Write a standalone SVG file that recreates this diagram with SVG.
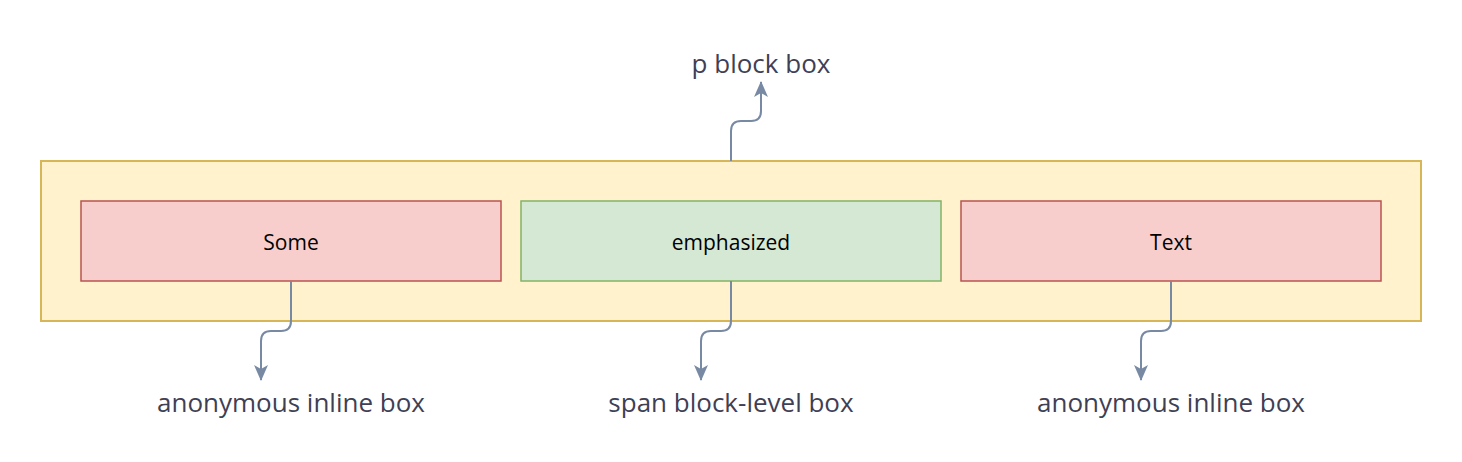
<svg xmlns="http://www.w3.org/2000/svg" width="1462" height="462" viewBox="0 0 1462 462">
<style>
.lbl{font-family:"Comic Sans MS","Open Sans","DejaVu Sans",sans-serif;font-size:26px;fill:#3f3f55;text-anchor:middle}
.in{font-family:"Comic Sans MS","Open Sans","DejaVu Sans",sans-serif;font-size:21px;fill:#000;text-anchor:middle}
.red{fill:#f8cecc;stroke:#b85450;stroke-width:1.5}
.grn{fill:#d5e8d4;stroke:#82b366;stroke-width:1.5}
.con{fill:none;stroke:#788aa3;stroke-width:2}
</style>
<defs>
<marker id="ah" viewBox="0 0 16 14" refX="15" refY="7" markerWidth="16" markerHeight="14" markerUnits="userSpaceOnUse" orient="auto">
<path d="M0,0 L16,7 L0,14 L4,7 Z" fill="#788aa3"/>
</marker>
</defs>
<rect width="1462" height="462" fill="#fff"/>
<g id="p-block">
<rect x="41" y="161" width="1380" height="160" fill="#fff2cc" stroke="#d6b656" stroke-width="2"/>
</g>
<g id="some"><rect class="red" x="81" y="201" width="420" height="80"/><text class="in" x="291" y="250">Some</text></g>
<g id="emphasized"><rect class="grn" x="521" y="201" width="420" height="80"/><text class="in" x="731" y="250">emphasized</text></g>
<g id="text"><rect class="red" x="961" y="201" width="420" height="80"/><text class="in" x="1171" y="250">Text</text></g>
<g id="labels">
<text class="lbl" x="761" y="73">p block box</text>
<text class="lbl" x="291" y="412">anonymous inline box</text>
<text class="lbl" x="731" y="412">span block-level box</text>
<text class="lbl" x="1171" y="412">anonymous inline box</text>
</g>
<g id="connectors">
<path class="con" d="M731,161 V131 Q731,121 741,121 H751 Q761,121 761,111 V82" marker-end="url(#ah)"/>
<path class="con" d="M291,281 V321 Q291,331 281,331 H271 Q261,331 261,341 V380" marker-end="url(#ah)"/>
<path class="con" d="M731,281 V321 Q731,331 721,331 H711 Q701,331 701,341 V380" marker-end="url(#ah)"/>
<path class="con" d="M1171,281 V321 Q1171,331 1161,331 H1151 Q1141,331 1141,341 V380" marker-end="url(#ah)"/>
</g>
</svg>
